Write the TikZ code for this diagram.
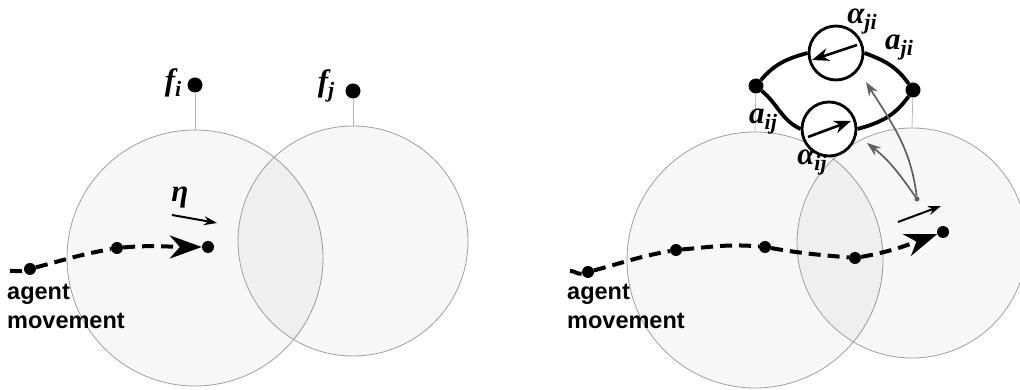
\documentclass[tikz,border=0pt]{standalone}
\usepackage{fontspec}
\setmainfont{Liberation Serif}
\setsansfont{Liberation Sans}
\usetikzlibrary{arrows.meta}
\newcommand{\lbl}[2]{\fontsize{31}{31}\selectfont\bfseries\itshape #1\raisebox{-6pt}{\fontsize{22}{22}\selectfont #2}}
\begin{document}
\begin{tikzpicture}[x=1pt,y=1pt,
  zone/.style={circle, draw=gray!75, line width=0.8pt, fill=black, fill opacity=0.03, text opacity=1, inner sep=0pt},
  dot/.style={circle, fill=black, inner sep=0pt, minimum size=12pt},
  fdot/.style={circle, fill=black, inner sep=0pt, minimum size=15pt},
  pin/.style={draw=gray!60, line width=0.7pt},
  walk/.style={line width=4pt, dash pattern=on 12pt off 7pt, -{Stealth[length=32pt,width=23pt,inset=10pt]}},
  eta/.style={line width=2pt, -{Stealth[length=13pt,width=9pt]}},
  edge/.style={line width=3.8pt},
  gate/.style={circle, draw=black, line width=2.8pt, fill=white, inner sep=0pt, minimum size=54pt},
  garr/.style={line width=2.6pt, -{Stealth[length=17pt,width=13pt]}},
  hint/.style={draw=gray!75!black, line width=1.7pt, -{Stealth[length=14pt,width=10pt]}},
  lab/.style={inner sep=0pt},
  txt/.style={font=\sffamily\bfseries\fontsize{23.5}{29}\selectfont, align=left, inner sep=0pt, anchor=north west}
]
\useasboundingbox (0,0) rectangle (1020,390);
\fill[white] (0,0) rectangle (1020,390);

% ---------- left panel ----------
\node[zone, minimum size=256pt] (ci) at (195,132) {};
\node[zone, minimum size=230pt] (cj) at (353,149) {};
\node[fdot] (fi) at (195,305) {};
\node[fdot] (fj) at (353,299) {};
\draw[pin] (fi) -- (ci.north);
\draw[pin] (fj) -- (cj.north);
\node[lab] (lfi) at (173,307) {\lbl{f}{i}};
\node[lab] (lfj) at (326,304) {\lbl{f}{j}};

\coordinate (s0) at (10,119);
\node[dot] (a1) at (30,121) {};
\node[dot] (a2) at (117,142) {};
\node[dot] (a3) at (208,143) {};
\draw[walk] (s0) to[out=5,in=-165] (a1) to[out=15,in=-170] (a2) to[out=5,in=180] (a3);

\coordinate (e1) at (172,175);
\coordinate (e2) at (217,167);
\draw[eta] (e1) -- (e2);
\node[lab] (leta) at (180,192) {\lbl{η}{}};

\node[txt] (am1) at (7,106) {agent\\movement};

% ---------- right panel ----------
\node[zone, minimum size=256pt] (cl) at (755,130) {};
\node[zone, minimum size=230pt] (cr) at (912,147) {};
\node[fdot] (nl) at (756,304) {};
\node[fdot] (nr) at (913,300) {};
\draw[pin] (nl) -- (cl.north);
\draw[pin] (nr) -- (cr.north);

\node[gate] (gu) at (836,337) {};
\node[gate] (gl) at (829,261) {};
\draw[edge] (nl) to[out=50,in=195] (gu.west);
\draw[edge] (gu.east) to[out=-20,in=125] (nr);
\draw[edge] (nl) to[out=-40,in=155] (gl.west);
\draw[edge] (gl.east) to[out=15,in=-125] (nr);

\coordinate (u1) at (857,345);
\coordinate (u2) at (812,330);
\draw[garr] (u1) -- (u2);
\coordinate (l1) at (808,253);
\coordinate (l2) at (851,269);
\draw[garr] (l1) -- (l2);

\node[lab] (laji) at (862,368) {\lbl{α}{ji}};
\node[lab] (lsji) at (899,342) {\lbl{a}{ji}};
\node[lab] (lsij) at (763,268) {\lbl{a}{ij}};
\node[lab] (laij) at (812,227) {\lbl{α}{ij}};

\coordinate (b0) at (570,119);
\node[dot] (b1) at (588,118) {};
\node[dot] (b2) at (676,140) {};
\node[dot] (b3) at (765,143) {};
\node[dot] (b4) at (855,132) {};
\node[dot] (b5) at (943,158) {};
\draw[walk] (b0) to[out=5,in=-165] (b1) to[out=15,in=-170] (b2) to[out=5,in=175] (b3)
  to[out=-10,in=175] (b4) to[out=10,in=-160] (b5);

\coordinate (h1) at (898,168);
\coordinate (h2) at (941,184);
\draw[eta] (h1) -- (h2);

\node[circle, fill=gray!75!black, inner sep=0pt, minimum size=5pt] (src) at (917,191) {};
\coordinate (t1) at (866,308);
\coordinate (t2) at (867,247);
\draw[hint] (src) to[out=97,in=-58] (t1);
\draw[hint] (src) to[out=125,in=-38] (t2);

\node[txt] (am2) at (567,106) {agent\\movement};
\end{tikzpicture}
\end{document}
